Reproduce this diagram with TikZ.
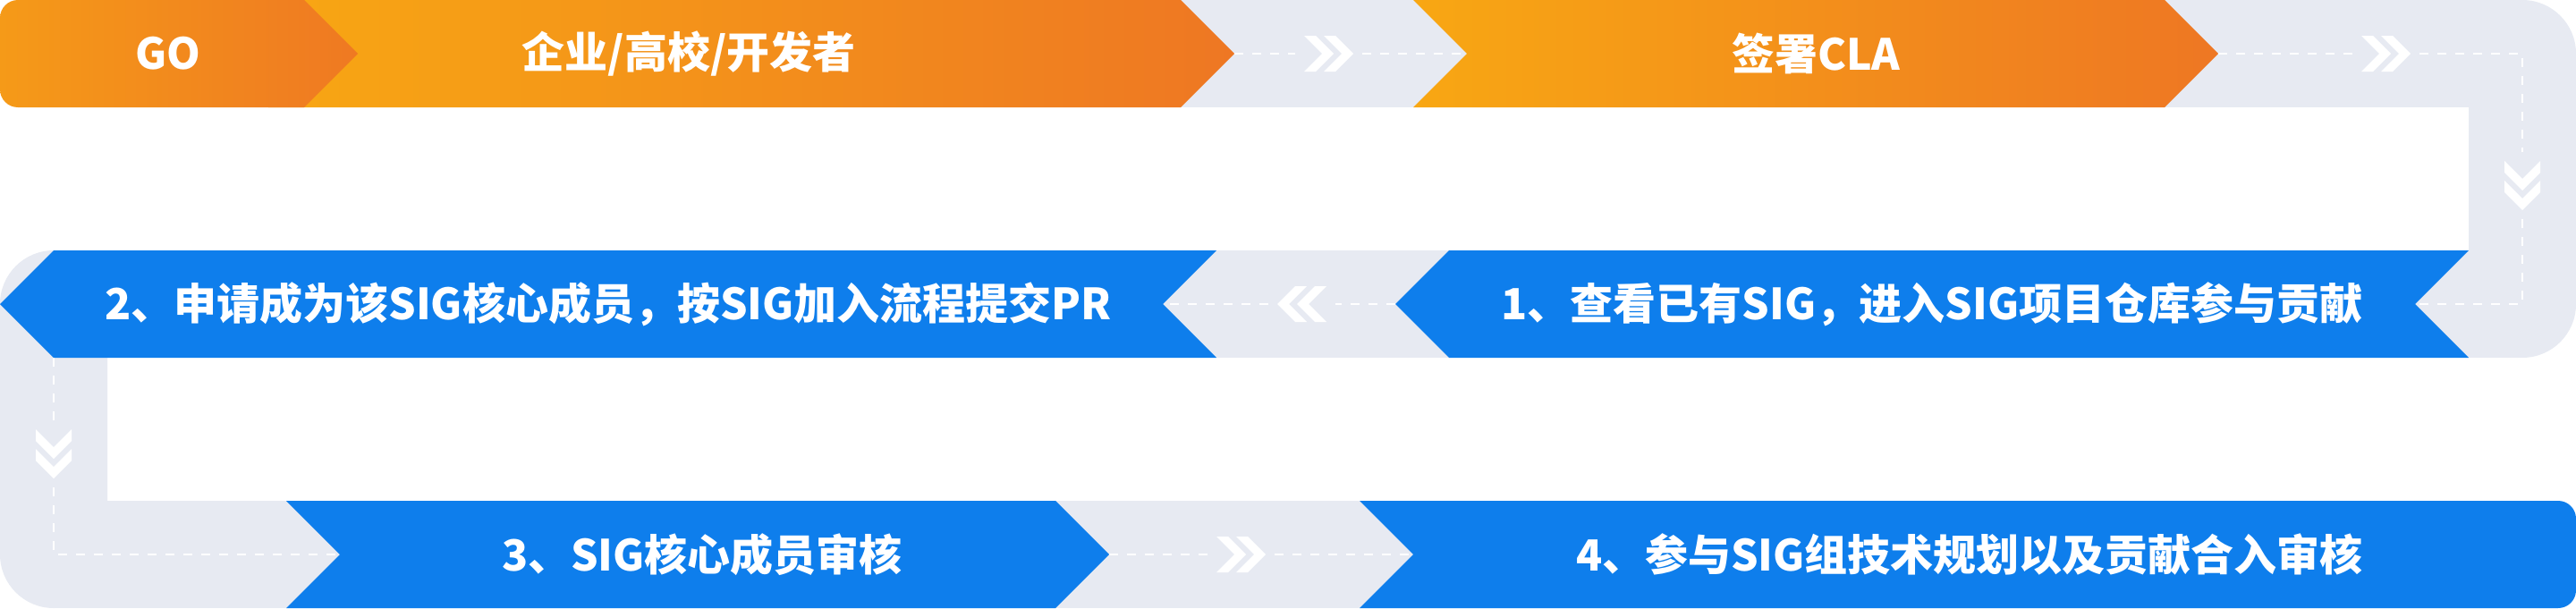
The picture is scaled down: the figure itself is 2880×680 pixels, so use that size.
\documentclass[tikz,border=0pt]{standalone}
\usepackage{fontspec}
\setmainfont{Noto Sans CJK SC}
\definecolor{bl}{HTML}{0E7EEC}
\definecolor{gr}{HTML}{E7EAF2}
\definecolor{goL}{HTML}{F59A18}
\definecolor{goR}{HTML}{EF7922}
\definecolor{orL}{HTML}{F8A713}
\definecolor{orR}{HTML}{EE7723}
\tikzset{
  txt/.style={text=white,font=\fontsize{24}{28}\selectfont\bfseries,inner sep=0pt},
  dashline/.style={draw=white,line width=1.1pt,dash pattern=on 5pt off 5pt},
  chevR/.pic={
    \fill[white] (0,-20) -- (20,0) -- (0,20) -- (13,20) -- (33,0) -- (13,-20) -- cycle;
    \fill[white] (22,-20) -- (42,0) -- (22,20) -- (35,20) -- (55,0) -- (35,-20) -- cycle;},
  chevL/.pic={
    \fill[white] (0,0) -- (20,-20) -- (33,-20) -- (13,0) -- (33,20) -- (20,20) -- cycle;
    \fill[white] (22,0) -- (42,-20) -- (55,-20) -- (35,0) -- (55,20) -- (42,20) -- cycle;},
  chevD/.pic={
    \fill[white] (-20,0) -- (0,20) -- (20,0) -- (20,13) -- (0,33) -- (-20,13) -- cycle;
    \fill[white] (-20,22) -- (0,42) -- (20,22) -- (20,35) -- (0,55) -- (-20,35) -- cycle;}
}
\begin{document}
\begin{tikzpicture}[x=0.5pt,y=-0.5pt]
\useasboundingbox (0,0) rectangle (2880,680);
% grey snake track
\fill[gr] (300,0) rectangle (2820,120);
\fill[gr,rounded corners=30pt] (2760,0) rectangle (2880,400);
\fill[gr] (60,280) rectangle (2820,400);
\fill[gr,rounded corners=30pt] (0,280) rectangle (120,680);
\fill[gr] (60,560) rectangle (1620,680);
% top row (orange)
\shade[left color=orL,right color=orR] (300,0) -- (1320,0) -- (1380,60) -- (1320,120) -- (300,120) -- cycle;
\begin{scope}
  \clip[rounded corners=10pt] (0,0) rectangle (600,120);
  \shade[left color=goL,right color=goR] (0,0) -- (340,0) -- (400,60) -- (340,120) -- (0,120) -- cycle;
\end{scope}
\shade[left color=orL,right color=orR] (1580,0) -- (2420,0) -- (2480,60) -- (2420,120) -- (1580,120) -- (1640,60) -- cycle;
% middle row (blue)
\fill[bl] (2760,280) -- (1620,280) -- (1560,340) -- (1620,400) -- (2760,400) -- (2700,340) -- cycle;
\fill[bl] (1360,280) -- (60,280) -- (0,340) -- (60,400) -- (1360,400) -- (1300,340) -- cycle;
% bottom row (blue)
\fill[bl] (320,560) -- (1180,560) -- (1240,620) -- (1180,680) -- (320,680) -- (380,620) -- cycle;
\begin{scope}
  \clip[rounded corners=10pt] (1400,560) rectangle (2880,680);
  \fill[bl] (1520,560) -- (2880,560) -- (2880,680) -- (1520,680) -- (1580,620) -- cycle;
\end{scope}
% tips and connector points
\coordinate (a1) at (1380,60);  \coordinate (a2) at (1448,60);
\coordinate (a3) at (1523,60);  \coordinate (a4) at (1640,60);
\coordinate (b1) at (2480,60);  \coordinate (b2) at (2630,60);
\coordinate (b3) at (2705,60);  \coordinate (b4) at (2820,60);
\coordinate (b5) at (2820,170); \coordinate (b6) at (2820,245);
\coordinate (b7) at (2820,340); \coordinate (b8) at (2700,340);
\coordinate (c1) at (1560,340); \coordinate (c2) at (1493,340);
\coordinate (c3) at (1418,340); \coordinate (c4) at (1300,340);
\coordinate (d1) at (60,400);   \coordinate (d2) at (60,470);
\coordinate (d3) at (60,545);   \coordinate (d4) at (60,620);
\coordinate (d5) at (380,620);
\coordinate (e1) at (1240,620); \coordinate (e2) at (1350,620);
\coordinate (e3) at (1425,620); \coordinate (e4) at (1580,620);
% dashed connectors
\draw[dashline] (a1) -- (a2);
\draw[dashline] (a3) -- (a4);
\draw[dashline] (b1) -- (b2);
\draw[dashline] (b3) -- (b4) -- (b5);
\draw[dashline] (b6) -- (b7) -- (b8);
\draw[dashline] (c1) -- (c2);
\draw[dashline] (c3) -- (c4);
\draw[dashline] (d1) -- (d2);
\draw[dashline] (d3) -- (d4) -- (d5);
\draw[dashline] (e1) -- (e2);
\draw[dashline] (e3) -- (e4);
% chevrons
\pic at (1458,60) {chevR};
\pic at (2640,60) {chevR};
\pic at (2820,180) {chevD};
\pic at (1428,340) {chevL};
\pic at (60,480) {chevD};
\pic at (1360,620) {chevR};
% labels
\node[txt] (go) at (188,60) {GO};
\node[txt] (who) at (770,60) {企业/高校/开发者};
\node[txt] (cla) at (2030,60) {签署CLA};
\node[txt] (s1) at (2160,340) {1、查看已有SIG，进入SIG项目仓库参与贡献};
\node[txt] (s2) at (680,340) {2、申请成为该SIG核心成员，按SIG加入流程提交PR};
\node[txt] (s3) at (785,620) {3、SIG核心成员审核};
\node[txt] (s4) at (2202,620) {4、参与SIG组技术规划以及贡献合入审核};
\end{tikzpicture}
\end{document}
